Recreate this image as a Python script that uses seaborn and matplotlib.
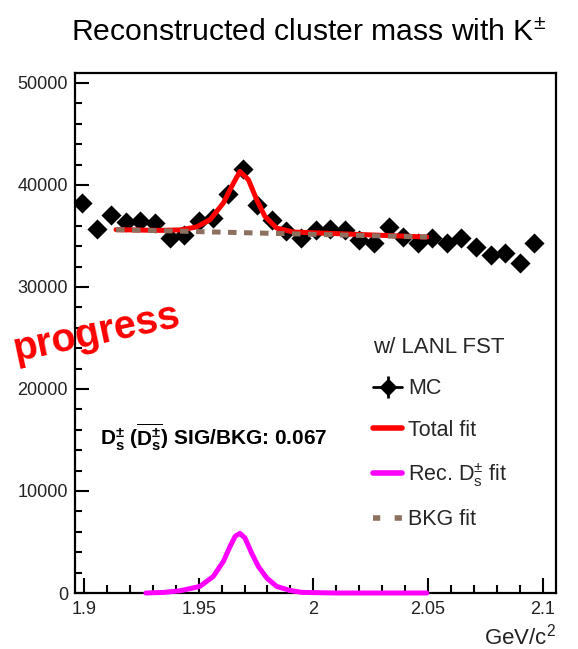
import numpy as np
import pandas as pd
import matplotlib
matplotlib.use("Agg")
import matplotlib.pyplot as plt
from matplotlib.lines import Line2D
from matplotlib.ticker import MultipleLocator, FuncFormatter
import seaborn as sns

# ---------------- data ----------------
mc_mass = [1.8992, 1.9056, 1.9119, 1.9183, 1.9246, 1.9310, 1.9374, 1.9437,
           1.9501, 1.9564, 1.9628, 1.9692, 1.9755, 1.9819, 1.9882, 1.9946,
           2.0010, 2.0073, 2.0137, 2.0200, 2.0264, 2.0328, 2.0391, 2.0455,
           2.0518, 2.0582, 2.0646, 2.0709, 2.0773, 2.0836, 2.0900, 2.0964]
mc_counts = [38235, 35716, 37088, 36333, 36431, 36275, 34804, 35127,
             36500, 36765, 39147, 41569, 38069, 36598, 35451, 34804,
             35618, 35716, 35618, 34637, 34314, 35882, 34902, 34314,
             34804, 34314, 34804, 33882, 33167, 33333, 32353, 34314]

total_mass = [1.914, 1.933, 1.942, 1.949, 1.955, 1.9608, 1.9644, 1.968,
              1.9717, 1.9753, 1.9789, 1.984, 1.9913, 2.0495]
total_fit = [35620, 35550, 35600, 35880, 36600, 38240, 39860, 41330,
             40520, 38560, 36920, 35780, 35390, 34900]

sig_mass = [1.927, 1.935, 1.942, 1.9506, 1.9564, 1.9608, 1.9637, 1.9659,
            1.968, 1.9702, 1.9731, 1.976, 1.9797, 1.984, 1.9898, 1.995,
            2.01, 2.03, 2.0495]
sig_fit = [0, 60, 220, 650, 1630, 3100, 4570, 5550,
           5850, 5390, 3920, 2610, 1470, 650, 250, 60,
           0, 0, 0]

bkg_mass = [1.914, 2.0495]
bkg_fit = [35620, 34900]

x_ticks = [1.9, 1.95, 2.0, 2.05, 2.1]
y_ticks = [0, 10000, 20000, 30000, 40000, 50000]

title = "Reconstructed cluster mass with K$^{\\pm}$"
legend_title = "w/ LANL FST"
legend_labels = ["MC", "Total fit", "Rec. $\\mathrm{D_s^{\\pm}}$ fit", "BKG fit"]
sigbkg_text = "$\\mathbf{D_s^{\\pm}}$ ($\\overline{\\mathbf{D_s^{\\pm}}}$) SIG/BKG: 0.067"

# ---------------- style ----------------
sns.set_theme(style="white")
plt.rcParams["font.family"] = ["Liberation Sans", "DejaVu Sans"]
plt.rcParams["mathtext.fontset"] = "custom"
plt.rcParams["mathtext.rm"] = "Liberation Sans"
plt.rcParams["mathtext.it"] = "Liberation Sans:italic"
plt.rcParams["mathtext.bf"] = "Liberation Sans:bold"
plt.rcParams["mathtext.default"] = "regular"

RED = "#ff0000"
MAG = "#ff00ff"
BRN = "#8d7060"

fig = plt.figure(figsize=(5.78, 6.49), dpi=100)
ax = fig.add_axes([75 / 578, 1 - 593 / 649, (556 - 75) / 578, (593 - 73) / 649])

df_mc = pd.DataFrame({"mass": mc_mass, "counts": mc_counts})
df_tot = pd.DataFrame({"mass": total_mass, "fit": total_fit})
df_sig = pd.DataFrame({"mass": sig_mass, "fit": sig_fit})
df_bkg = pd.DataFrame({"mass": bkg_mass, "fit": bkg_fit})

sns.scatterplot(data=df_mc, x="mass", y="counts", marker="D", s=105,
                color="black", edgecolor="black", linewidth=0, ax=ax, zorder=3)
sns.lineplot(data=df_tot, x="mass", y="fit", color=RED, lw=3.6, ax=ax,
             zorder=4, sort=False)
bl = sns.lineplot(data=df_bkg, x="mass", y="fit", color=BRN, lw=3.6, ax=ax,
                  zorder=5, sort=False)
bl.lines[-1].set_dashes((1.7, 1.5))
sns.lineplot(data=df_sig, x="mass", y="fit", color=MAG, lw=3.6, ax=ax,
             zorder=5, sort=False, clip_on=False)

ax.set_xlim(1.8961, 2.1058)
ax.set_ylim(0, 50980)
ax.set_xticks(x_ticks)
ax.set_yticks(y_ticks)
ax.xaxis.set_minor_locator(MultipleLocator(0.01))
ax.yaxis.set_minor_locator(MultipleLocator(2000))
ax.xaxis.set_major_formatter(FuncFormatter(lambda v, p: f"{v:g}"))
ax.yaxis.set_major_formatter(FuncFormatter(lambda v, p: f"{int(round(v))}"))
ax.tick_params(axis="both", which="both", direction="in", colors="black",
               top=False, right=False, left=True, bottom=True, width=1.5,
               labelcolor="#222222", labelsize=13)
ax.tick_params(axis="x", which="major", length=11, pad=6)
ax.tick_params(axis="x", which="minor", length=6)
ax.tick_params(axis="y", which="major", length=10, pad=5)
ax.tick_params(axis="y", which="minor", length=5)
for sp in ax.spines.values():
    sp.set_visible(True)
    sp.set_color("black")
    sp.set_linewidth(1.6)

ax.set_xlabel("GeV/c$^{2}$", loc="right", fontsize=16, labelpad=4, color="#222222")
ax.set_ylabel("")

fig.text(309 / 578, 1 - 33 / 649, title, ha="center", va="center",
         fontsize=21.7, color="black")

ax.text((100 - 75) / 481, (593 - 437) / 520, sigbkg_text, transform=ax.transAxes,
        ha="left", va="center", fontsize=15, fontweight="bold", color="black")

fig.text(97 / 578, 1 - 333 / 649, "progress", ha="center", va="center",
         fontsize=28.5, fontweight="bold", color=RED, rotation=12, zorder=10)

# legend
h_mc = (Line2D([], [], color="black", lw=2),
        Line2D([], [], color="black", marker="|", markersize=16, lw=0, mew=2),
        Line2D([], [], color="black", marker="D", markersize=8, lw=0))
h_tot = Line2D([], [], color=RED, lw=4)
h_sig = Line2D([], [], color=MAG, lw=4)
h_bkg = Line2D([], [], color=BRN, lw=4, dashes=(1.3, 2.6))
leg = ax.legend([h_mc, h_tot, h_sig, h_bkg], legend_labels, title=legend_title,
                loc="upper left", bbox_to_anchor=(0.598, 0.513), frameon=False,
                fontsize=15.5, title_fontsize=16, handlelength=1.35,
                handletextpad=0.25, labelspacing=0.95, borderpad=0,
                alignment="left")

fig.savefig("out.png", dpi=100)
